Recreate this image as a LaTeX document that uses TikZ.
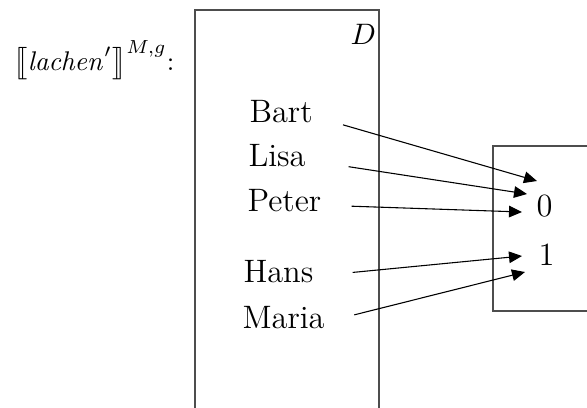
\documentclass[tikz,border=0pt]{standalone}
\usepackage{amsmath,amssymb}
\usepackage{stmaryrd}
\usepackage{xcolor}
\usepackage{tikz}
\usetikzlibrary{arrows.meta,positioning}
\definecolor{frameline}{HTML}{4D4D4D}
\tikzset{
  frame/.style={draw=frameline, line width=0.5pt},
  elem/.style={inner sep=0pt, anchor=base west, font=\large},
  val/.style={inner sep=0pt, anchor=base, font=\large},
  mapto/.style={-{Triangle[length=4.8pt, width=4.3pt]}, line width=0.4pt, draw=black},
}
\newcommand{\den}[1]{\bigl\llbracket #1\bigr\rrbracket}

\begin{document}
\begin{tikzpicture}[x=0.37pt, y=-0.37pt]
\useasboundingbox (0,0) rectangle (587,407);
\clip (0,0) rectangle (587,407);

% domain and range
\draw[frame] (195,10) rectangle (379,440);
\draw[frame] (493,146) rectangle (640,311);

\node[elem, font=\normalsize] (title) at (13,70) {$\den{\mathit{lachen}'}^{M,g}$:};
\node[elem, font=\fontsize{10.95}{13}\selectfont] (dom) at (350,44) {$D$};

\node[elem] (bart) at (249,122) {Bart};
\node[elem] (lisa) at (248,166) {Lisa};
\node[elem] (peter) at (247,211) {Peter};
\node[elem] (hans) at (243,282) {Hans};
\node[elem] (maria) at (242,328) {Maria};

\node[val] (zero) at (544.5,216) {0};
\node[val] (one) at (546.5,265) {1};

\coordinate (tbart) at (537,181);
\coordinate (tlisa) at (527,194);
\coordinate (tpeter) at (522,212);
\coordinate (thans) at (522,256);
\coordinate (tmaria) at (525,272);

\draw[mapto, shorten <=11.5pt] (bart.mid east) -- (tbart);
\draw[mapto, shorten <=15.9pt] (lisa.mid east) -- (tlisa);
\draw[mapto, shorten <=11.1pt] (peter.mid east) -- (tpeter);
\draw[mapto, shorten <=14.4pt] (hans.mid east) -- (thans);
\draw[mapto, shorten <=11.1pt] (maria.mid east) -- (tmaria);
\end{tikzpicture}
\end{document}
